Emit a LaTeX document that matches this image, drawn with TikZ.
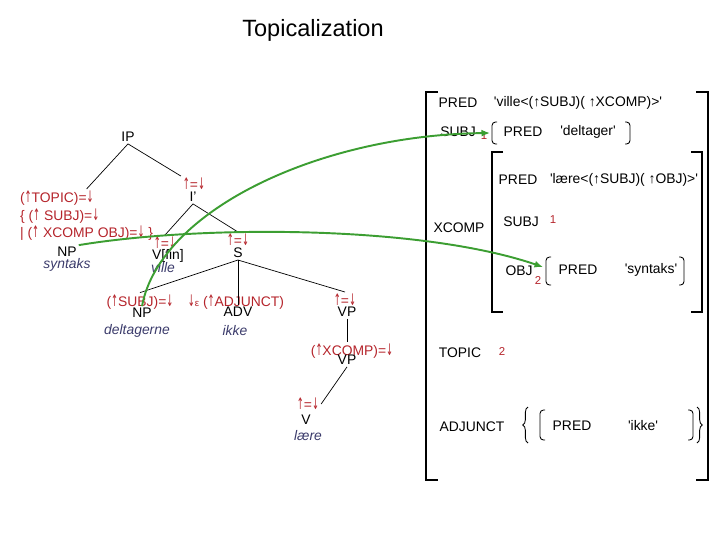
\documentclass[tikz,border=0pt]{standalone}
\usepackage{fontspec}
\usepackage{graphicx}
\setmainfont{Liberation Sans}
\newfontfamily\arrowfont{DejaVu Sans}
\usetikzlibrary{arrows.meta, decorations.pathreplacing}
\definecolor{annred}{HTML}{B5242B}
\definecolor{wordblue}{HTML}{3B3B6B}
\definecolor{linkgreen}{HTML}{3C9E32}
\newcommand{\fsz}{\fontsize{7.9}{10}\selectfont}
\newcommand{\qt}{\textquotesingle}
\newcommand{\up}{{\arrowfont\scalebox{0.6}[1.15]{↑}}}
\newcommand{\dn}{{\arrowfont\scalebox{0.6}[1.15]{↓}}}

\begin{document}
\begin{tikzpicture}[
  x=0.2mm, y=-0.2mm,
  cat/.style={font=\fsz, inner sep=1pt},
  ann/.style={font=\fsz, text=annred, inner sep=1pt},
  word/.style={font=\fsz\itshape, text=wordblue, inner sep=1pt},
  feat/.style={font=\fsz, inner sep=1pt},
  idx/.style={font=\fontsize{6.5}{8}\selectfont, text=annred, inner sep=0.5pt},
  branch/.style={line width=0.4pt},
  brk/.style={line width=0.5pt, rounded corners=2pt},
  fbox/.style={line width=0.8pt},
  curly/.style={line width=0.5pt, decorate, decoration={brace, amplitude=3pt}},
  link/.style={-{Latex[length=1.7mm, width=1.4mm]}, line width=1.1pt, linkgreen},
]
\useasboundingbox (0,0) rectangle (720,540);

% Title
\node[font=\fontsize{13.4}{16}\selectfont] (title) at (313,30) {Topicalization};

% === C-structure ===
\node[cat] (ip) at (128,137) {IP};

% topicalized object
\node[ann, align=left, anchor=north west] (a-np1) at (18,189)
  {(\up TOPIC)=\dn\\\{ (\up\ SUBJ)=\dn\\| (\up\ XCOMP OBJ)=\dn\ \}};
\node[cat] (np1) at (67,252) {NP};
\node[word] (w-np1) at (67,265) {syntaks};

% I' and daughters
\node[ann] (a-ibar) at (194,184) {\up=\dn};
\node[cat] (ibar) at (193,197) {I'};
\node[ann] (a-vfin) at (165,243) {\up=\dn};
\node[cat] (vfin) at (168,256) {V[fin]};
\node[word] (w-vfin) at (163,268) {ville};
\node[ann] (a-s) at (238,240) {\up=\dn};
\node[cat] (s) at (238,253) {S};

% S daughters
\node[ann] (a-np2) at (140,302) {(\up SUBJ)=\dn};
\node[cat] (np2) at (142,313) {NP};
\node[word] (w-np2) at (137,331) {deltagerne};
\node[ann] (a-adv) at (236,302) {\dn{\fontsize{5.5}{6}\selectfont ε} (\up ADJUNCT)};
\node[cat] (adv) at (238,312) {ADV};
\node[word] (w-adv) at (235,331) {ikke};
\node[ann] (a-vp1) at (345,300) {\up=\dn};
\node[cat] (vp1) at (347,312) {VP};

% embedded VP
\node[ann] (a-vp2) at (352,351) {(\up XCOMP)=\dn};
\node[cat] (vp2) at (347,360) {VP};
\node[ann] (a-v) at (308,404) {\up=\dn};
\node[cat] (v) at (306,420) {V};
\node[word] (w-v) at (308,436) {lære};

% branches
\draw[branch] (ip.south) -- (a-np1.north);
\draw[branch] (ip.south) -- (a-ibar.north west);
\draw[branch] (ibar.south) -- (a-vfin.north);
\draw[branch] (ibar.south) -- (a-s.north);
\draw[branch] (s.south) -- (a-np2.north);
\draw[branch] (s.south) -- (adv.north);
\draw[branch] (s.south) -- (a-vp1.north);
\draw[branch] (vp1.south) -- (vp1.south |- a-vp2.north);
\draw[branch] (vp2.south) -- (a-v.east);

% === F-structure ===
\draw[fbox] (438,92) -- (426,92) -- (426,480) -- (438,480);
\draw[fbox] (696,92) -- (708,92) -- (708,480) -- (696,480);

\node[feat] (f-pred) at (458,103) {PRED};
\node[feat] (f-predv) at (578,103) {\qt ville<(↑SUBJ)( ↑XCOMP)>\qt};

\node[feat] (f-subj) at (458,132) {SUBJ};
\node[idx] (f-subj-i) at (484,136) {1};
\draw[brk] (497,122) -- (492,122) -- (492,144) -- (497,144);
\draw[brk] (625,122) -- (630,122) -- (630,144) -- (625,144);
\node[feat] (f-sp) at (523,132) {PRED};
\node[feat] (f-spv) at (588,132) {\qt deltager\qt};
\coordinate (subj-brk) at (490,133);

% XCOMP
\draw[fbox] (503,152) -- (492,152) -- (492,312) -- (503,312);
\draw[fbox] (691,152) -- (702,152) -- (702,312) -- (691,312);
\node[feat] (f-xcomp) at (459,228) {XCOMP};
\node[feat] (f-xpred) at (518,180) {PRED};
\node[feat] (f-xpredv) at (624,180) {\qt lære<(↑SUBJ)( ↑OBJ)>\qt};
\node[feat] (f-xsubj) at (521,222) {SUBJ};
\node[idx] (f-xsubj-i) at (553,220) {1};
\node[feat] (f-obj) at (519,271) {OBJ};
\node[idx] (f-obj-i) at (538,281) {2};
\draw[brk] (551,257) -- (546,257) -- (546,285) -- (551,285);
\draw[brk] (679,257) -- (684,257) -- (684,285) -- (679,285);
\node[feat] (f-op) at (578,270) {PRED};
\node[feat] (f-opv) at (651,270) {\qt syntaks\qt};
\coordinate (obj-brk) at (543,267);

% TOPIC, ADJUNCT
\node[feat] (f-topic) at (460,353) {TOPIC};
\node[idx] (f-topic-i) at (502,352) {2};
\node[feat] (f-adj) at (472,427) {ADJUNCT};
\draw[curly] (528,443) -- (528,407);
\draw[brk] (545,410) -- (540,410) -- (540,440) -- (545,440);
\node[feat] (f-ap) at (572,426) {PRED};
\node[feat] (f-apv) at (643,426) {\qt ikke\qt};
\draw[brk] (688,410) -- (693,410) -- (693,440) -- (688,440);
\draw[curly] (697,407) -- (697,443);

% === Structure sharing links ===
\draw[link] (np2.north) .. controls (160,210) and (320,135) .. (subj-brk);
\draw[link] (np1.north east) .. controls (200,225) and (420,225) .. (obj-brk);

\end{tikzpicture}
\end{document}
